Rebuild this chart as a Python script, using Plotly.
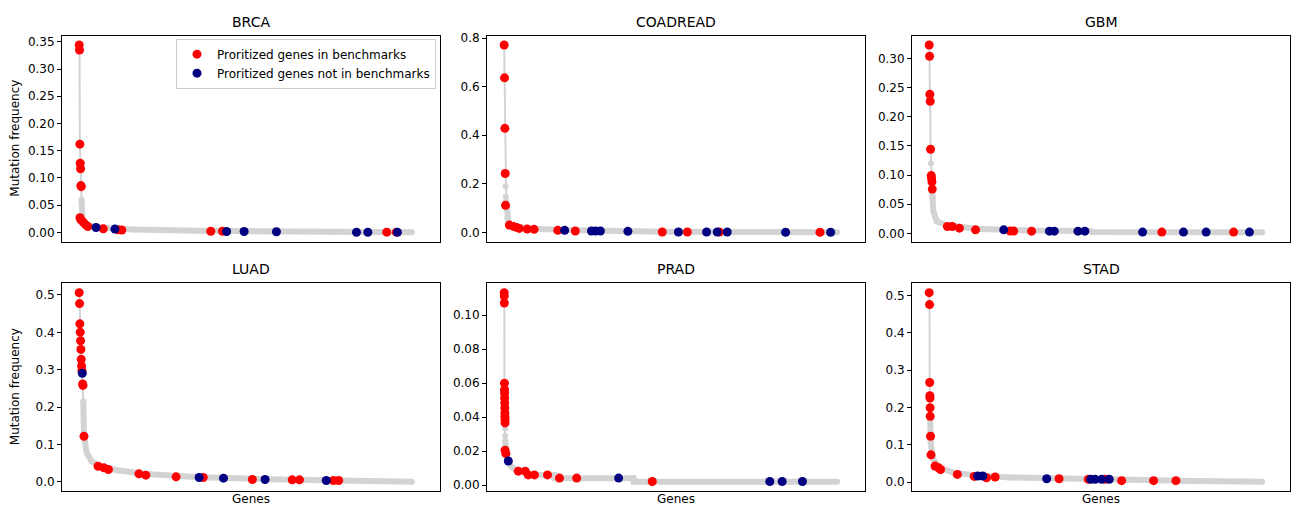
import plotly.graph_objects as go

# ---------------- data (x = position along the ranked gene list, 0..1000) ----------------
panel_names = ["BRCA", "COADREAD", "GBM", "LUAD", "PRAD", "STAD"]

# BRCA
brca_top_x = [0, 1, 2, 3, 4, 5, 6, 7]
brca_top_y = [0.344, 0.335, 0.162, 0.127, 0.117, 0.086, 0.084, 0.06]
brca_band_x = [7, 8, 10, 14, 22, 60, 158, 352, 546, 740, 968]
brca_band_y = [0.056, 0.032, 0.022, 0.017, 0.0127, 0.0085, 0.0054, 0.003, 0.0018, 0.0012, 0.0003]
brca_in_x = [0, 1, 2, 3, 4, 5, 6, 2.3, 5, 12, 19, 25, 70, 113, 124, 383, 417, 895, 923]
brca_in_y = [0.344, 0.335, 0.162, 0.127, 0.117, 0.086, 0.084, 0.027, 0.023, 0.0188, 0.0139, 0.0109,
             0.0067, 0.005, 0.0045, 0.0022, 0.0021, 0.0005, 0.0005]
brca_out_x = [49, 104, 429, 480, 574, 807, 840, 926]
brca_out_y = [0.0091, 0.0061, 0.0018, 0.0018, 0.0012, 0.0004, 0.0004, 0.0003]

# COADREAD
coad_top_x = [0, 1, 2, 3, 4, 5, 6]
coad_top_y = [0.771, 0.636, 0.428, 0.242, 0.19, 0.146, 0.126]
coad_band_x = [6, 7, 9, 13, 27, 75, 172, 269, 463, 657, 969]
coad_band_y = [0.126, 0.1, 0.058, 0.038, 0.026, 0.016, 0.0095, 0.0054, 0.0027, 0.0014, 0.0003]
coad_in_x = [0, 1, 2, 3, 4, 15, 27, 36, 44, 67, 87, 156, 207, 460, 533, 626, 919]
coad_in_y = [0.771, 0.636, 0.428, 0.242, 0.111, 0.0298, 0.0244, 0.0203, 0.0162, 0.0135, 0.0122,
             0.0081, 0.0054, 0.0014, 0.0014, 0.0014, 0.0003]
coad_out_x = [176, 254, 266, 280, 360, 507, 589, 620, 649, 819, 950]
coad_out_y = [0.0081, 0.0054, 0.0054, 0.0054, 0.004, 0.0014, 0.0014, 0.0014, 0.0014, 0.0005, 0.0003]

# GBM
gbm_top_x = [0, 1, 2, 3, 4, 5, 6, 7, 8, 9]
gbm_top_y = [0.3231, 0.3039, 0.2385, 0.2267, 0.1444, 0.12, 0.0992, 0.094, 0.0885, 0.0761]
gbm_band_x = [9, 10, 12, 22, 51, 138, 284, 468, 472, 969]
gbm_band_y = [0.07, 0.062, 0.038, 0.021, 0.014, 0.0079, 0.0051, 0.0043, 0.0023, 0.002]
gbm_in_x = [0, 1, 2, 3, 4, 6, 7, 8, 9, 53, 67, 88, 135, 236, 246, 298, 677, 886]
gbm_in_y = [0.3231, 0.3039, 0.2385, 0.2267, 0.1444, 0.0992, 0.094, 0.0885, 0.0761, 0.0118, 0.0118,
            0.009, 0.0062, 0.004, 0.004, 0.0039, 0.0023, 0.0023]
gbm_out_x = [217, 350, 364, 433, 453, 621, 740, 806, 932]
gbm_out_y = [0.0062, 0.0039, 0.0039, 0.0039, 0.0039, 0.0023, 0.0023, 0.0023, 0.0023]

# LUAD
luad_top_x = [0, 1, 2, 3, 4, 5, 6, 7, 8, 9, 10, 11, 12]
luad_top_y = [0.5062, 0.4769, 0.4227, 0.4005, 0.3774, 0.3543, 0.3277, 0.31, 0.2975, 0.2904,
              0.262, 0.258, 0.215]
luad_band_x = [12, 13, 14, 22, 36, 60, 109, 206, 352, 546, 740, 968]
luad_band_y = [0.215, 0.16, 0.122, 0.077, 0.055, 0.042, 0.031, 0.0204, 0.0124, 0.0071, 0.0036, 0.0003]
luad_in_x = [0, 1, 2, 3, 4, 5, 6, 7, 8, 10, 11, 14, 55, 72, 85, 174, 194, 282, 361, 504, 620, 641,
             740, 755]
luad_in_y = [0.5062, 0.4769, 0.4227, 0.4005, 0.3774, 0.3543, 0.3277, 0.31, 0.2975, 0.262, 0.258,
             0.1217, 0.0417, 0.0373, 0.0329, 0.0213, 0.0178, 0.0133, 0.0115, 0.0062, 0.0053, 0.0053,
             0.0036, 0.0036]
luad_out_x = [9, 349, 420, 541, 719]
luad_out_y = [0.2904, 0.0115, 0.0098, 0.0062, 0.0036]

# PRAD
prad_top_x = [0, 0.2, 0.4, 0.8, 1.0, 1.2, 1.4, 1.6, 1.8, 2.0, 2.2, 2.4, 2.6, 2.8, 3.0, 3.2]
prad_top_y = [0.1133, 0.1113, 0.1072, 0.060, 0.0561, 0.0542, 0.0513, 0.0483, 0.0454, 0.0425,
              0.0405, 0.0386, 0.0366, 0.0335, 0.029, 0.026]
prad_band_x = [3.2, 4, 8, 12, 20, 30, 40, 65, 66, 145, 146, 376, 377, 969]
prad_band_y = [0.026, 0.02, 0.0155, 0.0142, 0.011, 0.0095, 0.0082, 0.0082, 0.006, 0.006, 0.004,
               0.004, 0.002, 0.002]
prad_in_x = [0, 0.2, 0.4, 0.8, 1.0, 1.2, 1.4, 1.6, 1.8, 2.0, 2.2, 2.4, 2.6, 2.5, 5, 41, 61, 70, 88,
             126, 161, 211, 431]
prad_in_y = [0.1133, 0.1113, 0.1072, 0.060, 0.0561, 0.0542, 0.0513, 0.0483, 0.0454, 0.0425, 0.0405,
             0.0386, 0.0366, 0.0205, 0.0185, 0.0082, 0.0082, 0.006, 0.006, 0.006, 0.0041, 0.0041,
             0.0021]
prad_out_x = [12, 333, 773, 809, 868]
prad_out_y = [0.0142, 0.0041, 0.0021, 0.0021, 0.0021]

# STAD
stad_top_x = [0, 1, 1.5, 2, 2.3, 2.6, 3, 3.2]
stad_top_y = [0.5071, 0.4751, 0.2664, 0.2309, 0.2247, 0.1989, 0.1758, 0.167]
stad_band_x = [3.2, 4.3, 12, 31, 70, 138, 235, 381, 575, 769, 969]
stad_band_y = [0.167, 0.105, 0.06, 0.038, 0.025, 0.0178, 0.0124, 0.0089, 0.0062, 0.0027, 0.0009]
stad_in_x = [0, 1, 1.5, 2, 2.3, 2.6, 3, 4, 5.2, 17, 27, 33, 82, 131, 167, 192, 378, 463, 512, 560,
             653, 718]
stad_in_y = [0.5071, 0.4751, 0.2664, 0.2309, 0.2247, 0.1989, 0.1758, 0.1226, 0.0728, 0.0426,
             0.0382, 0.0337, 0.0204, 0.0151, 0.0115, 0.0133, 0.0089, 0.0071, 0.0071, 0.0036,
             0.0036, 0.0036]
stad_out_x = [141, 156, 342, 470, 483, 502, 524]
stad_out_y = [0.016, 0.016, 0.0089, 0.0071, 0.0071, 0.0071, 0.0071]

# y-axis tick values per panel
brca_ticks = [0.00, 0.05, 0.10, 0.15, 0.20, 0.25, 0.30, 0.35]
coad_ticks = [0.0, 0.2, 0.4, 0.6, 0.8]
gbm_ticks = [0.00, 0.05, 0.10, 0.15, 0.20, 0.25, 0.30]
luad_ticks = [0.0, 0.1, 0.2, 0.3, 0.4, 0.5]
prad_ticks = [0.00, 0.02, 0.04, 0.06, 0.08, 0.10]
stad_ticks = [0.0, 0.1, 0.2, 0.3, 0.4, 0.5]

legend_in = "Proritized genes in benchmarks"
legend_out = "Proritized genes not in benchmarks"
x_label = "Genes"
y_label = "Mutation frequency"

panels = [
    (brca_top_x, brca_top_y, brca_band_x, brca_band_y, brca_in_x, brca_in_y, brca_out_x, brca_out_y, brca_ticks, ".2f"),
    (coad_top_x, coad_top_y, coad_band_x, coad_band_y, coad_in_x, coad_in_y, coad_out_x, coad_out_y, coad_ticks, ".1f"),
    (gbm_top_x, gbm_top_y, gbm_band_x, gbm_band_y, gbm_in_x, gbm_in_y, gbm_out_x, gbm_out_y, gbm_ticks, ".2f"),
    (luad_top_x, luad_top_y, luad_band_x, luad_band_y, luad_in_x, luad_in_y, luad_out_x, luad_out_y, luad_ticks, ".1f"),
    (prad_top_x, prad_top_y, prad_band_x, prad_band_y, prad_in_x, prad_in_y, prad_out_x, prad_out_y, prad_ticks, ".2f"),
    (stad_top_x, stad_top_y, stad_band_x, stad_band_y, stad_in_x, stad_in_y, stad_out_x, stad_out_y, stad_ticks, ".1f"),
]

# ---------------- layout geometry (pixels) ----------------
W, H = 1303, 506
col_px = [(62, 440), (487, 865), (912, 1290)]
row_px = [(32, 240), (282, 492)]
FONT = "DejaVu Sans"
GREY = "#d3d3d3"

fig = go.Figure()
layout = dict(
    width=W, height=H,
    margin=dict(l=0, r=0, t=0, b=0),
    paper_bgcolor="white", plot_bgcolor="white",
    font=dict(family=FONT, size=12, color="black"),
    showlegend=True,
)
annotations = []

for i, (tx, ty, bx, by, rx, ry, nx, ny, ticks, fmt) in enumerate(panels):
    r, c = divmod(i, 3)
    k = "" if i == 0 else str(i + 1)
    xa, ya = "x" + k, "y" + k
    x0, x1 = col_px[c]
    y0, y1 = row_px[r]
    dom_x = [x0 / W, x1 / W]
    dom_y = [1 - y1 / H, 1 - y0 / H]

    fig.add_trace(go.Scatter(x=tx, y=ty, mode="lines+markers", xaxis=xa, yaxis=ya,
                             line=dict(color=GREY, width=2), marker=dict(color=GREY, size=6),
                             showlegend=False, hoverinfo="skip"))
    fig.add_trace(go.Scatter(x=bx, y=by, mode="lines+markers", xaxis=xa, yaxis=ya,
                             line=dict(color=GREY, width=6), marker=dict(color=GREY, size=6),
                             showlegend=False, hoverinfo="skip"))
    fig.add_trace(go.Scatter(x=rx, y=ry, mode="markers", xaxis=xa, yaxis=ya,
                             marker=dict(color="red", size=9), name=legend_in,
                             legendgroup="in", showlegend=(i == 0)))
    fig.add_trace(go.Scatter(x=nx, y=ny, mode="markers", xaxis=xa, yaxis=ya,
                             marker=dict(color="navy", size=9), name=legend_out,
                             legendgroup="out", showlegend=(i == 0)))

    all_y = ty + by + ry + ny
    ymin, ymax = min(all_y), max(all_y)
    ypad = 0.05 * (ymax - ymin)
    xmin, xmax = 0, 1000
    xpad = 0.05 * (xmax - xmin)

    layout["xaxis" + k] = dict(domain=dom_x, anchor=ya, range=[xmin - xpad, xmax + xpad],
                               showticklabels=False, ticks="", showgrid=False, zeroline=False,
                               showline=True, mirror=True, linecolor="black", linewidth=1)
    layout["yaxis" + k] = dict(domain=dom_y, anchor=xa, range=[ymin - ypad, ymax + ypad],
                               tickvals=ticks, tickformat=fmt, ticks="outside", ticklen=4,
                               tickwidth=1, tickcolor="black", showgrid=False, zeroline=False,
                               showline=True, mirror=True, linecolor="black", linewidth=1,
                               tickfont=dict(family=FONT, size=12, color="black"))

    annotations.append(dict(text=panel_names[i], x=(x0 + x1) / 2 / W, y=1 - (y0 - 14) / H,
                            xref="paper", yref="paper", xanchor="center", yanchor="middle",
                            showarrow=False, font=dict(family=FONT, size=14, color="black")))
    if c == 0:
        annotations.append(dict(text=y_label, x=15 / W, y=1 - (y0 + y1) / 2 / H,
                                xref="paper", yref="paper", xanchor="center", yanchor="middle",
                                textangle=-90, showarrow=False,
                                font=dict(family=FONT, size=12, color="black")))
    if r == 1:
        annotations.append(dict(text=x_label, x=(x0 + x1) / 2 / W, y=1 - 500 / H,
                                xref="paper", yref="paper", xanchor="center", yanchor="middle",
                                showarrow=False, font=dict(family=FONT, size=12, color="black")))

layout["annotations"] = annotations
layout["legend"] = dict(x=176 / W, y=1 - 35 / H, xanchor="left", yanchor="top",
                        bgcolor="rgba(255,255,255,0.8)", bordercolor="#cccccc", borderwidth=1,
                        font=dict(family=FONT, size=12, color="black"), tracegroupgap=0,
                        itemsizing="trace")
fig.update_layout(**layout)
fig.write_html("out.html", config={"displayModeBar": False},
               post_script="document.body.style.margin='0';document.body.style.overflow='hidden';")
